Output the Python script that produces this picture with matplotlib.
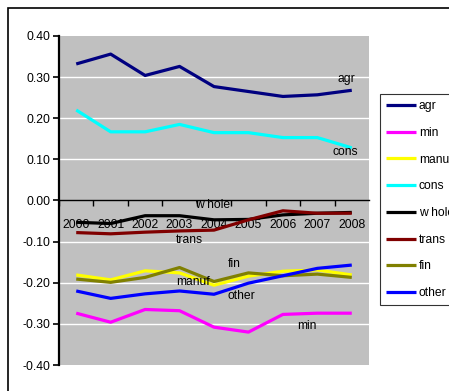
import matplotlib
matplotlib.use("Agg")
import matplotlib.pyplot as plt
from matplotlib.patches import Rectangle

years = ["2000", "2001", "2002", "2003", "2004", "2005", "2006", "2007", "2008"]
agr = [0.332, 0.356, 0.304, 0.326, 0.277, 0.265, 0.253, 0.257, 0.268]
mins = [-0.274, -0.296, -0.265, -0.268, -0.308, -0.320, -0.277, -0.274, -0.274]
manuf = [-0.181, -0.193, -0.171, -0.176, -0.206, -0.184, -0.172, -0.169, -0.181]
cons = [0.220, 0.167, 0.167, 0.185, 0.165, 0.165, 0.153, 0.153, 0.128]
whole = [-0.053, -0.056, -0.037, -0.037, -0.047, -0.046, -0.035, -0.031, -0.029]
trans = [-0.078, -0.081, -0.077, -0.074, -0.072, -0.047, -0.025, -0.031, -0.031]
fin = [-0.191, -0.199, -0.187, -0.163, -0.197, -0.176, -0.183, -0.179, -0.187]
other = [-0.220, -0.238, -0.227, -0.220, -0.228, -0.201, -0.183, -0.165, -0.157]

series = [
    ("agr", agr, "#000080"),
    ("min", mins, "#FF00FF"),
    ("manuf", manuf, "#FFFF00"),
    ("cons", cons, "#00FFFF"),
    ("w hole", whole, "#000000"),
    ("trans", trans, "#800000"),
    ("fin", fin, "#808000"),
    ("other", other, "#0000FF"),
]

plt.rcParams["font.family"] = ["Liberation Sans", "DejaVu Sans"]
FS = 8.7
W, H = 449, 391
fig = plt.figure(figsize=(W / 100, H / 100), dpi=100)

# outer frame
fig.patches.append(Rectangle((8 / W, -0.1), 1.2, (H - 8) / H + 0.1, transform=fig.transFigure,
                             fill=False, edgecolor="black", linewidth=1.2))

ax = fig.add_axes([59 / W, (H - 365) / H, (369 - 59) / W, (365 - 36) / H])
ax.set_facecolor("#C0C0C0")
x = list(range(len(years)))
for name, vals, col in series:
    ax.plot(x, vals, color=col, linewidth=2.3, label=name, zorder=3, solid_capstyle="butt")

ax.set_xlim(-0.5, len(years) - 0.5)
ax.set_ylim(-0.40, 0.40)
yt = [-0.40, -0.30, -0.20, -0.10, 0.00, 0.10, 0.20, 0.30, 0.40]
ax.set_yticks(yt)
ax.set_yticklabels([f"{v:.2f}" for v in yt], fontsize=FS)
for v in yt:
    if abs(v) > 1e-9 and abs(v) < 0.39:
        ax.axhline(v, color="white", linewidth=1.0, zorder=1)

ax.spines["top"].set_visible(False)
ax.spines["right"].set_visible(False)
ax.spines["left"].set_linewidth(1.6)
ax.spines["bottom"].set_position(("data", 0))
ax.spines["bottom"].set_linewidth(1.0)
ax.tick_params(axis="y", direction="out", length=4, width=1.2, pad=2)

ax.set_xticks([i + 0.5 for i in range(len(years) - 1)] + [-0.5])
ax.set_xticklabels([])
ax.tick_params(axis="x", which="major", direction="out", length=4, width=1.0)
ax.set_xticks(x, minor=True)
ax.set_xticklabels(years, minor=True, fontsize=FS)
ax.tick_params(axis="x", which="minor", length=0, pad=13)

# in-plot labels
labels = [
    (7.85, 0.295, "agr"), (7.8, 0.118, "cons"), (3.95, -0.012, "w hole"),
    (3.3, -0.097, "trans"), (4.6, -0.155, "fin"), (3.4, -0.198, "manuf"),
    (4.8, -0.233, "other"), (6.7, -0.305, "min"),
]
for xi, yi, t in labels:
    ax.text(xi, yi, t, fontsize=FS, ha="center", va="center", zorder=4)

leg = fig.legend(loc="upper left", bbox_to_anchor=(380 / W, 1 - 94 / H),
                 bbox_transform=fig.transFigure, fontsize=FS, frameon=True,
                 fancybox=False, edgecolor="black", handlelength=2.5,
                 handletextpad=0.2, labelspacing=1.22, borderpad=0.5,
                 borderaxespad=0)
leg.get_frame().set_linewidth(0.8)

fig.savefig("out.png", dpi=100)
